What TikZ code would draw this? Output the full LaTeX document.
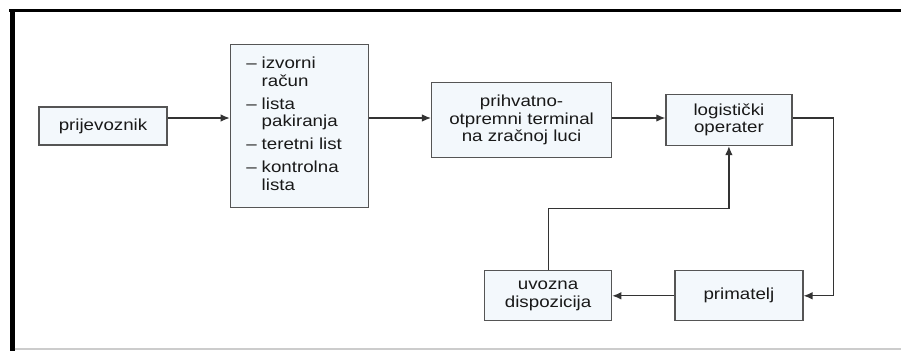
\documentclass[tikz,border=0pt]{standalone}
\usepackage{fontspec}
\setmainfont[FakeStretch=1.17]{Liberation Sans}
\usetikzlibrary{arrows.meta,positioning}
\definecolor{boxfill}{RGB}{243,248,252}
\definecolor{boxline}{RGB}{85,85,85}

\begin{document}
\begin{tikzpicture}[x=1pt, y=-1pt, >={Latex[length=9pt, width=7.5pt]},
      every node/.append style={align=center, font=\fontsize{16}{17.5}\selectfont, text=black!90},
      blok/.style={draw=boxline, line width=1.3pt, fill=boxfill, inner sep=0pt},
      veza/.style={->, draw=black!80, line width=1.2pt}]

     \useasboundingbox (0,0) rectangle (901,351);
     \draw[line width=3.5pt] (9,10.7) -- (901,10.7);
     \draw[line width=5pt] (12,9) -- (12,351);
     \draw[black!20, line width=1.5pt] (14.5,349) -- (901,349);

     \node [blok, minimum width=128pt, minimum height=38pt] (prij) at (103,126) {prijevoznik};
     \node [blok, right=62pt of prij, minimum height=163pt, text width=106pt,
            inner xsep=16pt, align=left] (list)
           {\begin{tabular}{@{}l@{\hspace{5pt}}l@{}}
            -- & izvorni\\ & račun\\[5.5pt]
            -- & lista\\ & pakiranja\\[5.5pt]
            -- & teretni list\\[5.5pt]
            -- & kontrolna\\ & lista
            \end{tabular}};
     \node [blok, right=62pt of list, yshift=6pt, minimum width=180pt, minimum height=75pt] (term)
           {prihvatno-\\otpremni terminal\\na zračnoj luci};
     \node [blok, right=53pt of term, minimum width=126pt, minimum height=51pt] (logi)
           {logistički\\operater};
     \node [blok, below=124pt of logi, xshift=10pt, minimum width=128pt, minimum height=50pt] (prim)
           {primatelj};
     \node [blok, left=62pt of prim, minimum width=127pt, minimum height=50pt] (uvoz)
           {uvozna\\dispozicija};

     \coordinate (lvl) at (0,118);
     \coordinate [right=30pt of prim] (back);
     \coordinate (mid) at (logi |- list.south);

     \draw[veza] (prij.east |- lvl) -- (list.west |- lvl);
     \draw[veza] (list.east |- lvl) -- (term.west |- lvl);
     \draw[veza] (term.east |- lvl) -- (logi.west |- lvl);
     \draw[veza] (logi.east |- lvl) -| (back) -- (prim.east);
     \draw[veza] (prim) -- (uvoz);
     \draw[veza] (uvoz.north) |- (mid) -- (logi.south);
  \end{tikzpicture}
\end{document}
